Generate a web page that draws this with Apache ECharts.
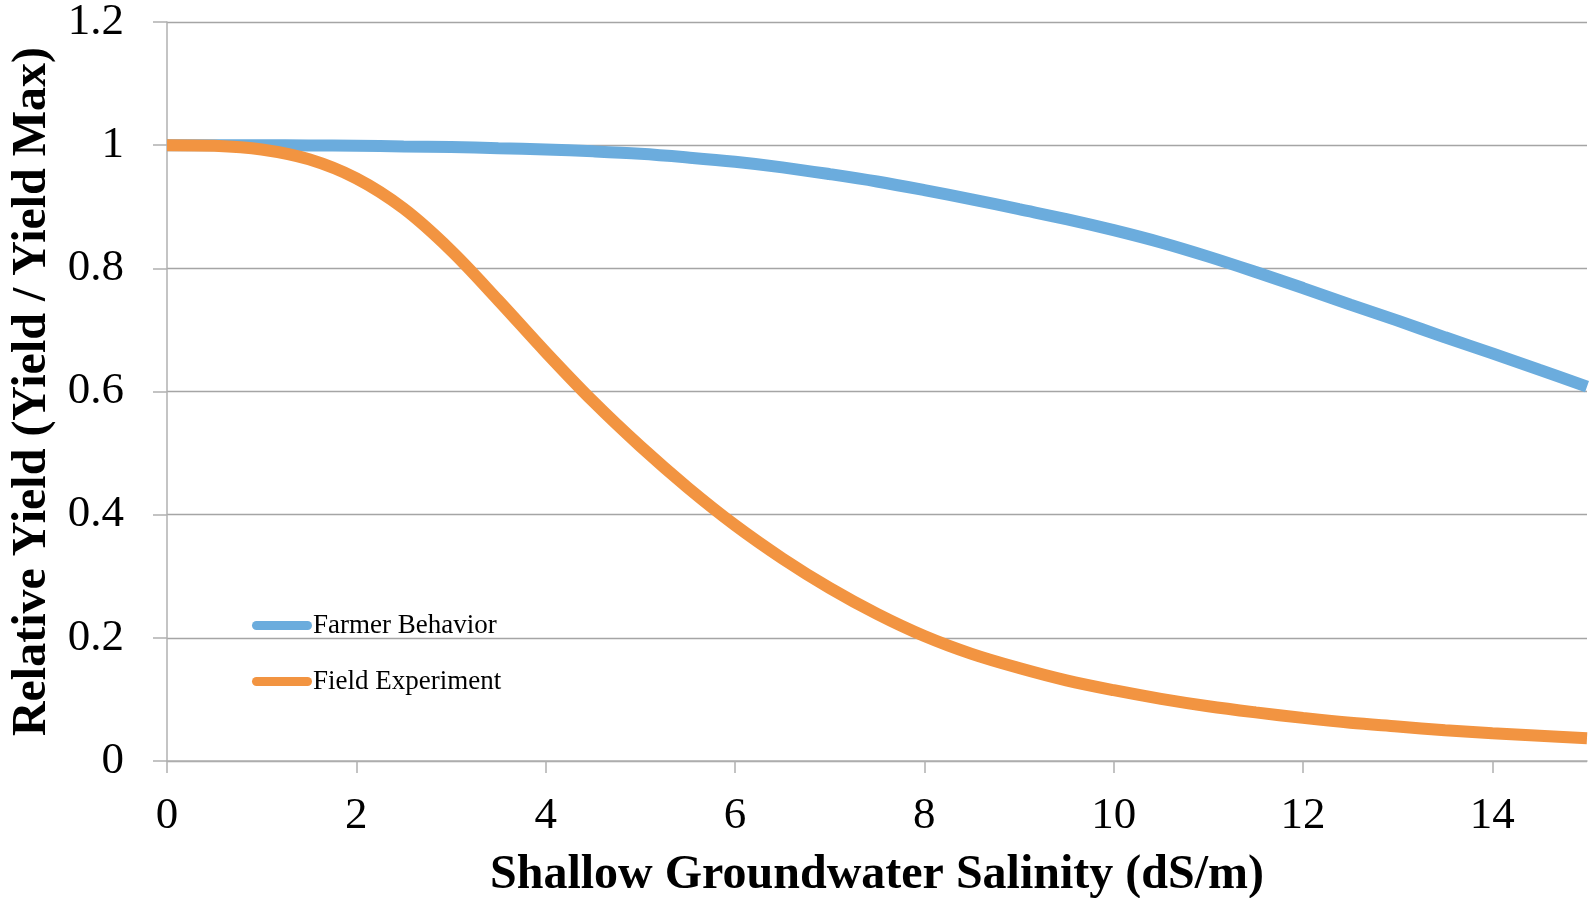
<!DOCTYPE html>
<html><head><meta charset="utf-8">
<script src="https://cdn.jsdelivr.net/npm/echarts@6/dist/echarts.min.js"></script>
<style>html,body{margin:0;padding:0;background:#fff}#c{width:1589px;height:898px}</style>
</head><body><div id="c"></div>
<script>
const salinity = [0,0.5,1,1.5,2,2.5,3,3.5,4,4.5,5,5.5,6,6.5,7,7.5,8,8.5,9,9.5,10,10.5,11,11.5,12,12.5,13,13.5,14,14.5,15];
const farmerBehavior = [1.0,1.0,1.0,0.9995,0.999,0.998,0.997,0.995,0.993,0.990,0.986,0.980,0.973,0.964,0.953,0.941,0.927,0.912,0.896,0.880,0.862,0.842,0.819,0.794,0.768,0.741,0.715,0.688,0.662,0.635,0.608];
const fieldExperiment = [1.0,0.999,0.993,0.977,0.946,0.897,0.829,0.748,0.664,0.584,0.511,0.444,0.383,0.329,0.281,0.239,0.203,0.174,0.151,0.131,0.115,0.101,0.089,0.079,0.070,0.062,0.056,0.050,0.045,0.041,0.037];
const xTicks = [0,2,4,6,8,10,12,14];
const yTicks = [0,0.2,0.4,0.6,0.8,1,1.2];
const seriesNames = ['Farmer Behavior','Field Experiment'];
const colors = ['#6BACDD','#F29441'];

const pair = (xs, ys) => xs.map((x,i) => [x, ys[i]]);
const font = '"Liberation Serif","Times New Roman",serif';
const chart = echarts.init(document.getElementById('c'), null, {renderer:'canvas'});
chart.setOption({
  animation:false,
  backgroundColor:'#fff',
  color: colors,
  grid:{left:167, right:2, top:22, bottom:137, containLabel:false, outerBoundsMode:'none'},
  legend:{
    orient:'vertical', left:252, top:612, itemGap:29, padding:0,
    itemWidth:60, itemHeight:9,
    icon:'path://M4.5,0 L55.5,0 A4.5,4.5 0 0 1 55.5,9 L4.5,9 A4.5,4.5 0 0 1 4.5,0 Z',
    textStyle:{fontFamily:font, fontSize:27, color:'#000', padding:[0,0,0,-4]},
    data: seriesNames
  },
  xAxis:{
    type:'value', min:0, max:15,
    name:'Shallow Groundwater Salinity (dS/m)', nameLocation:'middle', nameGap:91,
    nameTextStyle:{fontFamily:font, fontSize:48, fontWeight:'bold', color:'#000'},
    axisLine:{show:true, lineStyle:{color:'#b0b0b0', width:1.5}},
    axisTick:{show:true, length:12, lineStyle:{color:'#b0b0b0', width:1.5}, customValues:xTicks},
    axisLabel:{fontFamily:font, fontSize:45, color:'#000', margin:33, customValues:xTicks},
    splitLine:{show:false}
  },
  yAxis:{
    type:'value', min:0, max:1.2, interval:0.2,
    name:'Relative Yield (Yield / Yield Max)', nameLocation:'middle', nameGap:108,
    nameTextStyle:{fontFamily:font, fontSize:48, fontWeight:'bold', color:'#000'},
    axisLine:{show:true, lineStyle:{color:'#b0b0b0', width:1.5}},
    axisTick:{show:true, length:14, lineStyle:{color:'#b0b0b0', width:1.5}, customValues:yTicks},
    axisLabel:{fontFamily:font, fontSize:45, color:'#000', margin:43, padding:[8,0,0,0], customValues:yTicks},
    splitLine:{show:true, lineStyle:{color:'#a5a5a5', width:1.3}}
  },
  series:[
    {name:seriesNames[0], type:'line', smooth:0.35, symbol:'none', showSymbol:false,
     lineStyle:{width:12, color:colors[0]}, data:pair(salinity, farmerBehavior)},
    {name:seriesNames[1], type:'line', smooth:0.35, symbol:'none', showSymbol:false,
     lineStyle:{width:12, color:colors[1]}, data:pair(salinity, fieldExperiment)}
  ]
});
</script></body></html>
